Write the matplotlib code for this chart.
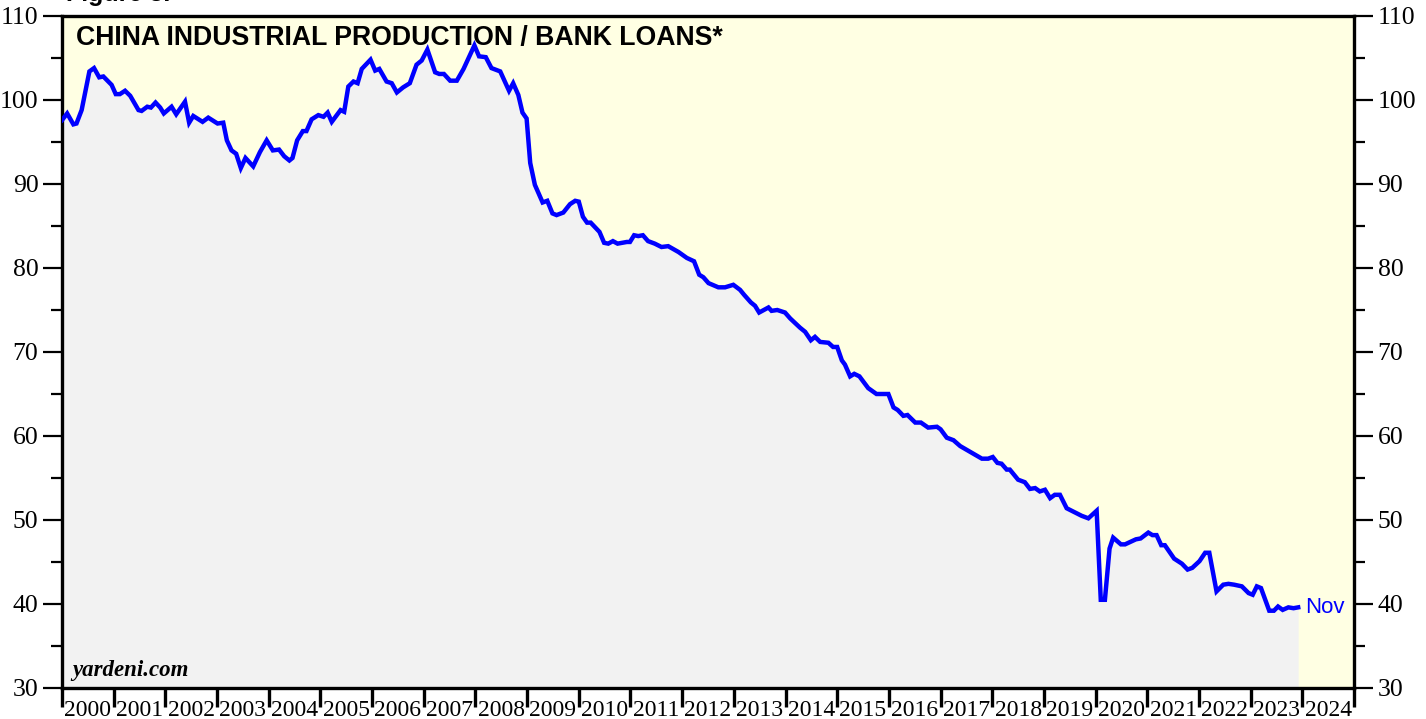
import matplotlib
matplotlib.use("Agg")
import matplotlib.pyplot as plt
from matplotlib.ticker import MultipleLocator, FixedLocator, NullFormatter

# ---- data (decimal years since 2000, ratio values) ----
t_offset = [0.00, 0.10, 0.22, 0.28, 0.38, 0.53, 0.62, 0.72, 0.80, 0.96,
            1.04, 1.12, 1.22, 1.32, 1.48, 1.54, 1.65, 1.72, 1.81, 1.90,
            1.97, 2.12, 2.21, 2.38, 2.46, 2.54, 2.72, 2.83, 3.01, 3.12,
            3.19, 3.28, 3.37, 3.46, 3.55, 3.70, 3.83, 3.96, 4.08, 4.20,
            4.30, 4.40, 4.46, 4.55, 4.66, 4.73, 4.83, 4.96, 5.06, 5.14,
            5.22, 5.39, 5.46, 5.54, 5.64, 5.72, 5.80, 5.97, 6.06, 6.14,
            6.28, 6.38, 6.48, 6.60, 6.73, 6.86, 6.96, 7.07, 7.22, 7.30,
            7.39, 7.51, 7.64, 7.77, 7.98, 8.07, 8.20, 8.31, 8.48, 8.65,
            8.73, 8.83, 8.91, 8.99, 9.06, 9.15, 9.30, 9.39, 9.49, 9.57,
            9.70, 9.83, 9.93, 10.00, 10.08, 10.16, 10.23, 10.40, 10.49, 10.57,
            10.66, 10.75, 10.93, 10.99, 11.07, 11.15, 11.24, 11.34, 11.47, 11.60,
            11.73, 11.93, 12.09, 12.23, 12.33, 12.41, 12.51, 12.70, 12.83, 12.99,
            13.12, 13.20, 13.33, 13.41, 13.49, 13.67, 13.73, 13.84, 13.99, 14.09,
            14.28, 14.38, 14.49, 14.57, 14.67, 14.83, 14.92, 15.00, 15.09, 15.15,
            15.25, 15.33, 15.43, 15.60, 15.76, 15.99, 16.09, 16.17, 16.28, 16.36,
            16.51, 16.62, 16.76, 16.93, 17.00, 17.12, 17.25, 17.38, 17.63, 17.80,
            17.92, 18.01, 18.10, 18.18, 18.28, 18.34, 18.50, 18.63, 18.73, 18.83,
            18.92, 19.02, 19.12, 19.21, 19.31, 19.44, 19.57, 19.73, 19.86, 20.02,
            20.10, 20.18, 20.27, 20.34, 20.49, 20.57, 20.78, 20.87, 21.02, 21.10,
            21.18, 21.27, 21.34, 21.52, 21.67, 21.78, 21.87, 22.01, 22.12, 22.20,
            22.34, 22.47, 22.57, 22.68, 22.83, 22.96, 23.04, 23.12, 23.20, 23.36,
            23.45, 23.53, 23.62, 23.73, 23.83, 23.92]
ratio = [97.6, 98.4, 97.1, 97.2, 98.8, 103.4, 103.8, 102.7, 102.8, 101.8,
         100.7, 100.7, 101.1, 100.5, 98.8, 98.7, 99.2, 99.1, 99.7, 99.1,
         98.4, 99.2, 98.3, 99.8, 97.3, 98.1, 97.4, 97.9, 97.2, 97.3,
         95.2, 94.0, 93.6, 91.9, 93.1, 92.1, 93.8, 95.2, 94.0, 94.1,
         93.3, 92.8, 93.1, 95.2, 96.3, 96.3, 97.7, 98.2, 98.0, 98.5,
         97.4, 98.8, 98.6, 101.6, 102.2, 102.0, 103.7, 104.8, 103.5, 103.7,
         102.2, 102.0, 100.9, 101.5, 102.0, 104.2, 104.7, 106.0, 103.3, 103.1,
         103.1, 102.3, 102.3, 103.7, 106.5, 105.2, 105.1, 103.8, 103.4, 101.1,
         102.0, 100.6, 98.5, 97.8, 92.5, 89.9, 87.8, 88.0, 86.5, 86.3,
         86.6, 87.6, 88.0, 87.9, 86.1, 85.4, 85.4, 84.3, 83.0, 82.9,
         83.2, 82.9, 83.1, 83.1, 83.9, 83.8, 83.9, 83.2, 82.9, 82.5,
         82.6, 81.9, 81.2, 80.8, 79.2, 78.9, 78.2, 77.7, 77.7, 78.0,
         77.4, 76.8, 75.9, 75.5, 74.7, 75.3, 74.9, 75.0, 74.7, 74.0,
         72.9, 72.4, 71.4, 71.8, 71.2, 71.1, 70.6, 70.6, 69.0, 68.5,
         67.1, 67.4, 67.1, 65.7, 65.0, 65.0, 63.4, 63.1, 62.4, 62.5,
         61.6, 61.6, 61.0, 61.1, 60.8, 59.8, 59.5, 58.8, 57.9, 57.3,
         57.3, 57.5, 56.8, 56.7, 56.0, 56.0, 54.8, 54.5, 53.7, 53.8,
         53.4, 53.6, 52.6, 53.0, 53.0, 51.4, 51.0, 50.5, 50.2, 51.1,
         40.5, 40.5, 46.6, 47.9, 47.1, 47.1, 47.7, 47.8, 48.5, 48.2,
         48.2, 47.0, 47.0, 45.4, 44.8, 44.1, 44.3, 45.1, 46.1, 46.1,
         41.5, 42.3, 42.4, 42.3, 42.1, 41.3, 41.1, 42.1, 41.9, 39.2,
         39.2, 39.7, 39.3, 39.6, 39.5, 39.6]
years = list(range(2000, 2025))
year_labels = [str(y) for y in years]
title = "CHINA INDUSTRIAL PRODUCTION / BANK LOANS*"

t = [2000 + d for d in t_offset]

fig = plt.figure(figsize=(14.26, 7.19), dpi=100)
ax = fig.add_axes([62/1426, 31/719, (1354-62)/1426, (688-16)/719])
ax.set_facecolor("#FFFFE3")
ax.set_xlim(2000, 2025)
ax.set_ylim(30, 110)

ax.fill_between(t, ratio, 30, color="#F2F2F2", lw=0, zorder=1)
ax.plot(t, ratio, color="#0000FF", lw=3.2, zorder=3, solid_joinstyle="miter")

for s in ax.spines.values():
    s.set_linewidth(2.4)
    s.set_color("black")

serif = ["Liberation Serif", "DejaVu Serif"]
sans = ["Liberation Sans", "DejaVu Sans"]
# y axis ticks on both sides
ax.yaxis.set_major_locator(MultipleLocator(10))
ax.yaxis.set_minor_locator(MultipleLocator(5))
ax.tick_params(axis="y", which="major", direction="out", length=14, width=1.6,
               left=True, right=True, labelleft=True, labelright=True, pad=3)
ax.tick_params(axis="y", which="minor", direction="out", length=8, width=1.6,
               left=True, right=True)
for lab in ax.get_yticklabels():
    lab.set_fontfamily(serif)
    lab.set_fontsize(18.5)

# x axis: ticks at year boundaries, labels centred in each year
ax.xaxis.set_major_locator(FixedLocator(years + [2025]))
ax.xaxis.set_major_formatter(NullFormatter())
ax.set_xticks([y + 0.5 for y in years], minor=True)
ax.set_xticklabels(year_labels, minor=True)
ax.tick_params(axis="x", which="major", direction="out", length=14, width=2.4)
ax.tick_params(axis="x", which="minor", length=0, pad=9)
for lab in ax.get_xticklabels(minor=True):
    lab.set_fontfamily(serif)
    lab.set_fontsize(17)

ax.text(0.011, 0.986, title, transform=ax.transAxes, ha="left", va="top",
        fontsize=19.2, fontweight="bold", family=sans, zorder=5)
ax.text(0.008, 0.010, "yardeni.com", transform=ax.transAxes, ha="left", va="bottom",
        fontsize=16.5, fontweight="bold", fontstyle="italic", family=serif, zorder=5)
ax.annotate("Nov", xy=(t[-1], ratio[-1]), xytext=(5, 0), textcoords="offset points",
            ha="left", va="center", color="#0000FF", fontsize=16, family=sans, zorder=5)

fig.text(66/1426, 1 - 1/719, "Figure 3.", ha="left", va="baseline", fontsize=18,
         fontweight="bold", family=sans)

fig.savefig("out.png", dpi=100)
